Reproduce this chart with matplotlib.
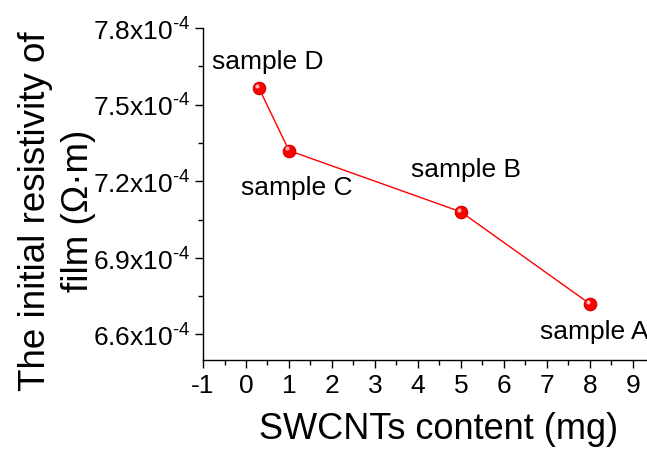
import matplotlib
matplotlib.use("Agg")
import matplotlib.pyplot as plt
from matplotlib.ticker import FixedLocator, FuncFormatter, MultipleLocator

plt.rcParams['font.family'] = ['Liberation Sans', 'DejaVu Sans']
plt.rcParams['mathtext.fontset'] = 'custom'
plt.rcParams['mathtext.rm'] = 'Liberation Sans'
plt.rcParams['axes.unicode_minus'] = False

# data
content_mg = [0.3, 1.0, 5.0, 8.0]
resistivity = [7.565e-4, 7.32e-4, 7.08e-4, 6.72e-4]
sample_names = ["sample D", "sample C", "sample B", "sample A"]
label_x = [0.51, 1.19, 5.12, 6.84]
label_y = [7.667e-4, 7.173e-4, 7.243e-4, 6.608e-4]
label_ha = ["center", "center", "center", "left"]
y_ticks = [6.6e-4, 6.9e-4, 7.2e-4, 7.5e-4, 7.8e-4]
x_ticks = list(range(-1, 10))

fig = plt.figure(figsize=(6.47, 4.51), dpi=100)
ax = fig.add_axes([0.3138, 0.2018, 0.6862, 0.7362])

ax.plot(content_mg, resistivity, color='red', lw=1.0, zorder=2)
ax.plot(content_mg, resistivity, 'o', ms=9, color='red', mec='#d00000', mew=0.8, zorder=3)
# highlight for sphere look
ax.plot(content_mg, resistivity, 'o', ms=3, color='#ffb0b0', mew=0, zorder=4,
        transform=ax.transData + matplotlib.transforms.ScaledTranslation(-1.5/72, 1.5/72, fig.dpi_scale_trans))

for n, lx, ly, ha in zip(sample_names, label_x, label_y, label_ha):
    ax.text(lx, ly, n, ha=ha, va='center', fontsize=19)

ax.set_xlim(-1, 9.33)
ax.set_ylim(6.5e-4, 7.8e-4)
ax.xaxis.set_major_locator(FixedLocator(x_ticks))
ax.xaxis.set_minor_locator(MultipleLocator(0.5))
ax.yaxis.set_major_locator(FixedLocator(y_ticks))
ax.yaxis.set_minor_locator(MultipleLocator(0.15e-4))

def yfmt(v, pos):
    return r'%.1fx10$^{\text{-4}}$' % (v * 1e4)
ax.yaxis.set_major_formatter(FuncFormatter(yfmt))

ax.spines['top'].set_visible(False)
ax.spines['right'].set_visible(False)
for s in ['left', 'bottom']:
    ax.spines[s].set_linewidth(1.0)
ax.tick_params(which='major', direction='out', length=6, width=1.0, labelsize=19)
ax.tick_params(which='minor', direction='out', length=3.5, width=1.0)
ax.tick_params(axis='y', pad=3)
ax.tick_params(axis='x', labelsize=19, pad=4)

ax.set_xlabel("SWCNTs content (mg)", fontsize=26)
ax.xaxis.set_label_coords(0.53, -0.157)
ax.set_ylabel("The initial resistivity of\nfilm (\u03a9\u00b7m)", fontsize=26.5, linespacing=1.3)
ax.yaxis.set_label_coords(-0.241, 0.449)

fig.savefig("out.png", dpi=100)
